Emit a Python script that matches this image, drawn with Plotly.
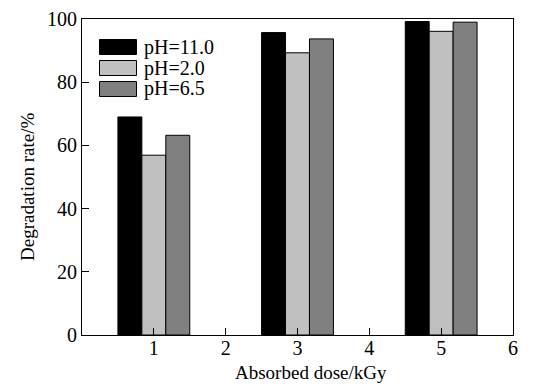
import plotly.graph_objects as go

doses = [1, 3, 5]
series_names = ["pH=11.0", "pH=2.0", "pH=6.5"]
ph_11 = [69.0, 95.7, 99.2]
ph_2 = [56.9, 89.3, 96.1]
ph_65 = [63.2, 93.7, 99.0]
x_ticks = [1, 2, 3, 4, 5, 6]
y_ticks = [0, 20, 40, 60, 80, 100]
x_title = "Absorbed dose/kGy"
y_title = "Degradation rate/%"

colors = ["#000000", "#c0c0c0", "#808080"]
series = [ph_11, ph_2, ph_65]

FONT = "Liberation Serif, Times New Roman, serif"

fig = go.Figure()
for name, vals, col in zip(series_names, series, colors):
    fig.add_trace(go.Bar(
        x=doses, y=vals, name=name,
        marker=dict(color=col, line=dict(color="#000000", width=1)),
        showlegend=False,
    ))

plot_l, plot_r, plot_t, plot_b = 82, 513, 19, 335
W, H = 551, 387
def px_x(px):
    return (px - plot_l) / (plot_r - plot_l)
def px_y(py):
    return (plot_b - py) / (plot_b - plot_t)

# custom legend (wide swatches like the original)
rows = [(39.5, 54.5), (60.5, 75.5), (81.5, 96.5)]
for (y0, y1), name, col in zip(rows, series_names, colors):
    fig.add_shape(type="rect", xref="paper", yref="paper",
                  x0=px_x(99.5), x1=px_x(136.5), y0=px_y(y1), y1=px_y(y0),
                  fillcolor=col, line=dict(color="#000000", width=1))
    fig.add_annotation(xref="paper", yref="paper", x=px_x(142), y=px_y((y0 + y1) / 2),
                       text=name, showarrow=False, xanchor="left", yanchor="middle",
                       font=dict(family=FONT, size=20, color="#000000"))

# axis titles
fig.add_annotation(xref="paper", yref="paper", x=px_x(311), y=px_y(372),
                   text=x_title, showarrow=False, xanchor="center", yanchor="middle",
                   font=dict(family=FONT, size=19, color="#000000"))
fig.add_annotation(xref="paper", yref="paper", x=px_x(28), y=px_y(187),
                   text=y_title, showarrow=False, xanchor="center", yanchor="middle",
                   textangle=-90,
                   font=dict(family=FONT, size=19, color="#000000"))

fig.update_layout(
    width=W, height=H,
    margin=dict(l=plot_l, r=W - plot_r, t=plot_t, b=H - plot_b, autoexpand=False),
    paper_bgcolor="white", plot_bgcolor="white",
    barmode="group", bargap=0.5, bargroupgap=0,
    font=dict(family=FONT, size=20, color="#000000"),
    xaxis=dict(
        range=[0, 6], tickvals=x_ticks, ticktext=[str(v) for v in x_ticks],
        ticks="inside", ticklen=7, tickwidth=1, tickcolor="#000000",
        showline=True, linecolor="#000000", linewidth=1, mirror=True,
        showgrid=False, zeroline=False, automargin=False,
        ticklabelstandoff=-5,
        tickfont=dict(size=20),
    ),
    yaxis=dict(
        range=[0, 100], tickvals=y_ticks,
        ticks="inside", ticklen=7, tickwidth=1, tickcolor="#000000",
        showline=True, linecolor="#000000", linewidth=1, mirror=True,
        showgrid=False, zeroline=False, automargin=False,
        ticklabelstandoff=0,
        tickfont=dict(size=20),
    ),
)

fig.write_html(
    "out.html",
    config={"displayModeBar": False},
    post_script="document.body.style.margin='0';document.body.style.overflow='hidden';",
)
